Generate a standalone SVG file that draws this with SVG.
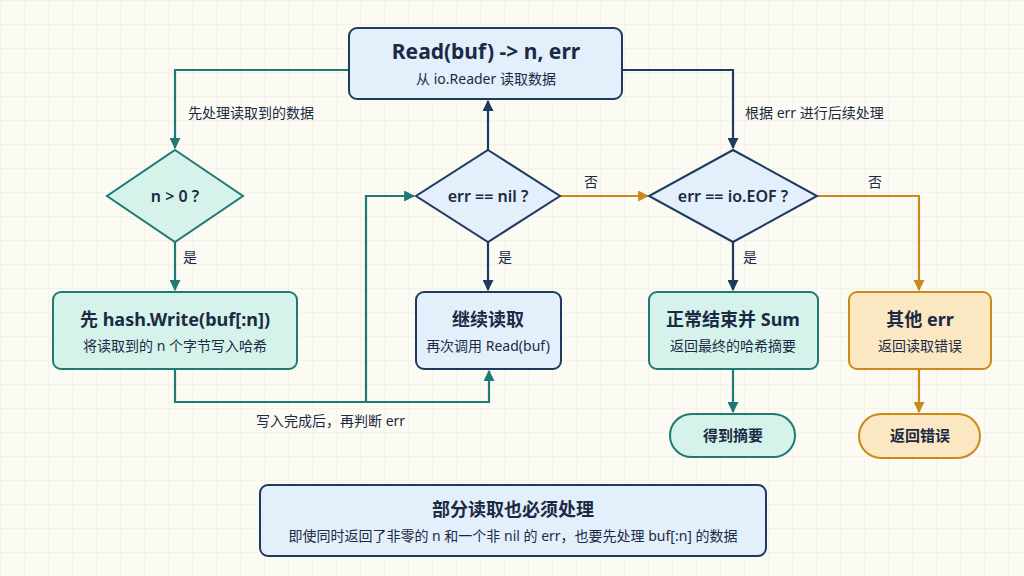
<svg xmlns="http://www.w3.org/2000/svg" width="1024" height="576" viewBox="0 0 1024 576">
<defs>
<pattern id="grid" width="24" height="24" patternUnits="userSpaceOnUse"><path d="M24 0H0V24" fill="none" stroke="#ecebe0" stroke-width="1"/></pattern>
<marker id="aT" viewBox="0 0 10 10" refX="9" refY="5" markerWidth="5" markerHeight="5" orient="auto-start-reverse"><path d="M0 0L10 5L0 10z" fill="#1f7a73"/></marker>
<marker id="aN" viewBox="0 0 10 10" refX="9" refY="5" markerWidth="5" markerHeight="5" orient="auto-start-reverse"><path d="M0 0L10 5L0 10z" fill="#1e3a5f"/></marker>
<marker id="aO" viewBox="0 0 10 10" refX="9" refY="5" markerWidth="5" markerHeight="5" orient="auto-start-reverse"><path d="M0 0L10 5L0 10z" fill="#c98a1a"/></marker>
</defs>
<style>
text{font-family:"Noto Sans","Noto Sans CJK SC",sans-serif;fill:#1b2a44;text-anchor:middle}
.t{font-weight:700;font-size:18px}
.s{font-size:14px}
.l{font-size:14px;text-anchor:start}
.b{fill:#e3effb;stroke:#1e3a5f;stroke-width:2}
.g{fill:#d5f3ea;stroke:#1f7a73;stroke-width:2}
.o{fill:#fbe7c2;stroke:#c98a1a;stroke-width:2}
.cT{fill:none;stroke:#1f7a73;stroke-width:2.2;marker-end:url(#aT)}
.cN{fill:none;stroke:#1e3a5f;stroke-width:2.2;marker-end:url(#aN)}
.cO{fill:none;stroke:#c98a1a;stroke-width:2.2;marker-end:url(#aO)}
</style>
<rect width="1024" height="576" fill="#fbfaf3"/>
<rect width="1024" height="576" fill="url(#grid)"/>
<g id="connectors">
<path class="cT" d="M349 70H175V148"/>
<path class="cN" d="M622 70H733V148"/>
<path class="cT" d="M175 242V290"/>
<path class="cT" d="M175 369V402H489V371"/>
<path class="cT" d="M366 402V196H414"/>
<path class="cN" d="M488 150V101"/>
<path class="cN" d="M488 242V290"/>
<path class="cO" d="M560 196H648"/>
<path class="cN" d="M733 242V290"/>
<path class="cT" d="M733 369V412"/>
<path class="cO" d="M817 196H919V290"/>
<path class="cO" d="M919 369V412"/>
<text class="l" x="188" y="118">先处理读取到的数据</text>
<text class="l" x="745" y="118">根据 err 进行后续处理</text>
<text class="l" x="183" y="262">是</text>
<text class="l" x="498" y="262">是</text>
<text class="l" x="743" y="262">是</text>
<text class="l" x="584" y="187">否</text>
<text class="l" x="868" y="187">否</text>
<text class="l" x="256" y="426">写入完成后，再判断 err</text>
</g>
<g id="read"><rect class="b" x="349" y="28" width="273" height="71" rx="8"/><text class="t" x="486" y="59" style="font-size:21px">Read(buf) -&gt; n, err</text><text class="s" x="486" y="84">从 io.Reader 读取数据</text></g>
<g id="n0"><path class="g" d="M175 150L243 196L175 242L107 196z"/><text class="t" x="175" y="202" style="font-size:16px;font-weight:600">n &gt; 0 ?</text></g>
<g id="hash"><rect class="g" x="53" y="292" width="244" height="77" rx="8"/><text class="t" x="175" y="326">先 hash.Write(buf[:n])</text><text class="s" x="175" y="351">将读取到的 n 个字节写入哈希</text></g>
<g id="nil"><path class="b" d="M488 150L560 196L488 242L416 196z"/><text class="t" x="488" y="202" style="font-size:16px;font-weight:600">err == nil ?</text></g>
<g id="cont"><rect class="b" x="416" y="292" width="145" height="77" rx="8"/><text class="t" x="488" y="326">继续读取</text><text class="s" x="488" y="351">再次调用 Read(buf)</text></g>
<g id="eof"><path class="b" d="M733 150L817 196L733 242L649 196z"/><text class="t" x="733" y="202" style="font-size:16px;font-weight:600">err == io.EOF ?</text></g>
<g id="sum"><rect class="g" x="649" y="292" width="169" height="77" rx="8"/><text class="t" x="733" y="326">正常结束并 Sum</text><text class="s" x="733" y="351">返回最终的哈希摘要</text></g>
<g id="digest"><rect class="g" x="670" y="414" width="125" height="43" rx="21.5"/><text class="t" x="733" y="441" style="font-size:15px">得到摘要</text></g>
<g id="other"><rect class="o" x="849" y="292" width="142" height="77" rx="8"/><text class="t" x="920" y="326">其他 err</text><text class="s" x="920" y="351">返回读取错误</text></g>
<g id="reterr"><rect class="o" x="859" y="414" width="121" height="44" rx="22"/><text class="t" x="920" y="441" style="font-size:15px">返回错误</text></g>
<g id="note"><rect class="b" x="260" y="485" width="506" height="71" rx="8"/><text class="t" x="513" y="516">部分读取也必须处理</text><text class="s" x="513" y="541">即使同时返回了非零的 n 和一个非 nil 的 err，也要先处理 buf[:n] 的数据</text></g>
</svg>
